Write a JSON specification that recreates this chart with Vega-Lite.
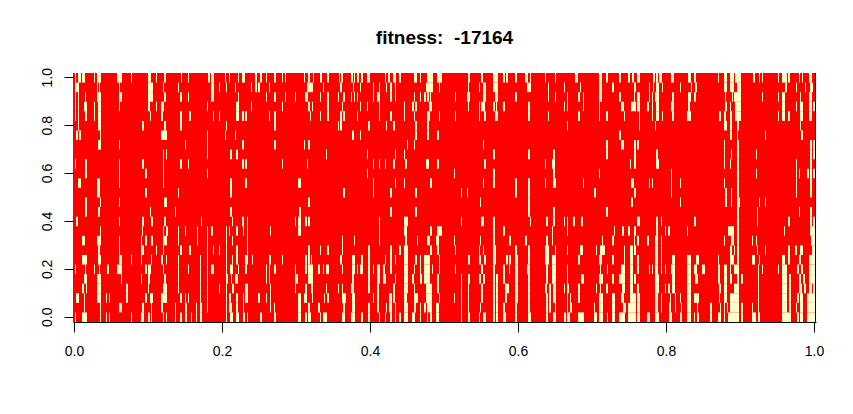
{"$schema":"https://vega.github.io/schema/vega-lite/v6.json","width":743,"height":249,"autosize":{"type":"none"},"padding":{"left":73,"top":73,"right":37,"bottom":92},"background":"white","title":{"text":"fitness: \u00a0-17164","font":"Liberation Sans","fontSize":19,"fontWeight":"bold","color":"black","anchor":"middle","offset":5,"baseline":"alphabetic"},"config":{"view":{"stroke":null,"fill":"#ff0000"}},"datasets":{"rows":[{"r":0,"a":-1,"b":742},{"r":1,"a":-1,"b":742},{"r":2,"a":-1,"b":742},{"r":3,"a":-1,"b":742},{"r":4,"a":-1,"b":742},{"r":5,"a":-1,"b":742},{"r":6,"a":-1,"b":742},{"r":7,"a":-1,"b":742},{"r":8,"a":-1,"b":742},{"r":9,"a":-1,"b":742},{"r":10,"a":-1,"b":742},{"r":11,"a":-1,"b":742},{"r":12,"a":-1,"b":742},{"r":13,"a":-1,"b":742},{"r":14,"a":-1,"b":742},{"r":15,"a":-1,"b":742},{"r":16,"a":-1,"b":742},{"r":17,"a":-1,"b":742},{"r":18,"a":-1,"b":742},{"r":19,"a":-1,"b":742},{"r":20,"a":-1,"b":742},{"r":21,"a":-1,"b":742},{"r":22,"a":-1,"b":742},{"r":23,"a":-1,"b":742},{"r":24,"a":-1,"b":742},{"r":25,"a":-1,"b":742}],"pale":[
{"r":25,"a":1,"b":2},{"r":25,"a":4,"b":7},{"r":25,"a":8,"b":11},{"r":25,"a":20,"b":21},{"r":25,"a":23,"b":27},{"r":25,"a":43,"b":48},{"r":25,"a":57,"b":58},{"r":25,"a":74,"b":77},{"r":25,"a":82,"b":83},{"r":25,"a":90,"b":92},{"r":25,"a":107,"b":108},{"r":25,"a":114,"b":115},{"r":25,"a":134,"b":136},{"r":25,"a":137,"b":140},{"r":25,"a":151,"b":152},{"r":25,"a":155,"b":156},{"r":25,"a":164,"b":165},{"r":25,"a":168,"b":171},{"r":25,"a":181,"b":183},{"r":25,"a":186,"b":188},{"r":25,"a":192,"b":193},{"r":25,"a":200,"b":202},{"r":25,"a":208,"b":209},{"r":25,"a":211,"b":212},{"r":25,"a":230,"b":231},{"r":25,"a":234,"b":236},{"r":25,"a":239,"b":240},{"r":25,"a":246,"b":248},{"r":25,"a":253,"b":255},{"r":25,"a":265,"b":266},{"r":25,"a":267,"b":269},{"r":25,"a":277,"b":279},{"r":25,"a":280,"b":281},{"r":25,"a":283,"b":285},{"r":25,"a":287,"b":289},{"r":25,"a":293,"b":296},{"r":25,"a":311,"b":312},{"r":25,"a":314,"b":316},{"r":25,"a":319,"b":322},{"r":25,"a":325,"b":327},{"r":25,"a":340,"b":343},{"r":25,"a":346,"b":347},{"r":25,"a":353,"b":359},{"r":25,"a":363,"b":368},{"r":25,"a":394,"b":396},{"r":25,"a":407,"b":409},{"r":25,"a":419,"b":424},{"r":25,"a":429,"b":431},{"r":25,"a":432,"b":434},{"r":25,"a":441,"b":443},{"r":25,"a":451,"b":454},{"r":25,"a":456,"b":457},{"r":25,"a":471,"b":472},{"r":25,"a":481,"b":482},{"r":25,"a":501,"b":504},{"r":25,"a":525,"b":528},{"r":25,"a":532,"b":534},{"r":25,"a":545,"b":547},{"r":25,"a":554,"b":556},{"r":25,"a":558,"b":560},{"r":25,"a":563,"b":566},{"r":25,"a":579,"b":581},{"r":25,"a":582,"b":584},{"r":25,"a":585,"b":588},{"r":25,"a":597,"b":600},{"r":25,"a":614,"b":617},{"r":25,"a":620,"b":622},{"r":25,"a":644,"b":645},{"r":25,"a":650,"b":653},{"r":25,"a":656,"b":660},{"r":25,"a":661,"b":667},{"r":25,"a":679,"b":681},{"r":25,"a":685,"b":686},{"r":25,"a":688,"b":689},{"r":25,"a":704,"b":705},{"r":25,"a":708,"b":713},{"r":25,"a":714,"b":716},{"r":25,"a":725,"b":726},{"r":25,"a":728,"b":729},{"r":25,"a":735,"b":738},
{"r":24,"a":1,"b":5},{"r":24,"a":23,"b":24},{"r":24,"a":25,"b":26},{"r":24,"a":45,"b":46},{"r":24,"a":74,"b":79},{"r":24,"a":89,"b":90},{"r":24,"a":104,"b":105},{"r":24,"a":137,"b":140},{"r":24,"a":145,"b":146},{"r":24,"a":152,"b":153},{"r":24,"a":161,"b":162},{"r":24,"a":177,"b":178},{"r":24,"a":181,"b":183},{"r":24,"a":184,"b":186},{"r":24,"a":195,"b":196},{"r":24,"a":233,"b":239},{"r":24,"a":249,"b":250},{"r":24,"a":266,"b":268},{"r":24,"a":279,"b":280},{"r":24,"a":286,"b":287},{"r":24,"a":299,"b":300},{"r":24,"a":305,"b":306},{"r":24,"a":312,"b":313},{"r":24,"a":316,"b":318},{"r":24,"a":321,"b":322},{"r":24,"a":352,"b":359},{"r":24,"a":365,"b":366},{"r":24,"a":394,"b":395},{"r":24,"a":405,"b":406},{"r":24,"a":409,"b":412},{"r":24,"a":419,"b":424},{"r":24,"a":453,"b":457},{"r":24,"a":474,"b":475},{"r":24,"a":490,"b":491},{"r":24,"a":506,"b":507},{"r":24,"a":525,"b":528},{"r":24,"a":538,"b":540},{"r":24,"a":560,"b":562},{"r":24,"a":575,"b":576},{"r":24,"a":579,"b":580},{"r":24,"a":582,"b":585},{"r":24,"a":588,"b":589},{"r":24,"a":606,"b":607},{"r":24,"a":617,"b":618},{"r":24,"a":621,"b":623},{"r":24,"a":650,"b":653},{"r":24,"a":656,"b":660},{"r":24,"a":663,"b":667},{"r":24,"a":711,"b":713},{"r":24,"a":722,"b":723},{"r":24,"a":731,"b":732},{"r":24,"a":736,"b":739},
{"r":23,"a":1,"b":2},{"r":23,"a":4,"b":5},{"r":23,"a":11,"b":12},{"r":23,"a":23,"b":27},{"r":23,"a":45,"b":48},{"r":23,"a":74,"b":79},{"r":23,"a":90,"b":92},{"r":23,"a":106,"b":108},{"r":23,"a":114,"b":115},{"r":23,"a":137,"b":140},{"r":23,"a":164,"b":165},{"r":23,"a":192,"b":193},{"r":23,"a":200,"b":202},{"r":23,"a":211,"b":212},{"r":23,"a":221,"b":222},{"r":23,"a":231,"b":234},{"r":23,"a":246,"b":247},{"r":23,"a":253,"b":255},{"r":23,"a":264,"b":265},{"r":23,"a":269,"b":271},{"r":23,"a":277,"b":278},{"r":23,"a":280,"b":281},{"r":23,"a":283,"b":284},{"r":23,"a":299,"b":300},{"r":23,"a":303,"b":306},{"r":23,"a":316,"b":318},{"r":23,"a":321,"b":322},{"r":23,"a":340,"b":341},{"r":23,"a":346,"b":347},{"r":23,"a":350,"b":352},{"r":23,"a":353,"b":355},{"r":23,"a":356,"b":357},{"r":23,"a":381,"b":382},{"r":23,"a":393,"b":396},{"r":23,"a":409,"b":412},{"r":23,"a":421,"b":424},{"r":23,"a":441,"b":443},{"r":23,"a":474,"b":475},{"r":23,"a":481,"b":482},{"r":23,"a":493,"b":494},{"r":23,"a":504,"b":506},{"r":23,"a":509,"b":510},{"r":23,"a":525,"b":528},{"r":23,"a":545,"b":547},{"r":23,"a":560,"b":561},{"r":23,"a":563,"b":566},{"r":23,"a":575,"b":576},{"r":23,"a":578,"b":579},{"r":23,"a":581,"b":585},{"r":23,"a":598,"b":600},{"r":23,"a":614,"b":617},{"r":23,"a":620,"b":622},{"r":23,"a":651,"b":652},{"r":23,"a":658,"b":659},{"r":23,"a":660,"b":667},{"r":23,"a":688,"b":689},{"r":23,"a":704,"b":705},{"r":23,"a":708,"b":711},{"r":23,"a":726,"b":727},{"r":23,"a":735,"b":738},
{"r":22,"a":1,"b":2},{"r":22,"a":4,"b":5},{"r":22,"a":10,"b":13},{"r":22,"a":20,"b":21},{"r":22,"a":24,"b":27},{"r":22,"a":45,"b":46},{"r":22,"a":74,"b":76},{"r":22,"a":82,"b":83},{"r":22,"a":87,"b":90},{"r":22,"a":133,"b":134},{"r":22,"a":162,"b":165},{"r":22,"a":177,"b":178},{"r":22,"a":208,"b":209},{"r":22,"a":234,"b":236},{"r":22,"a":238,"b":239},{"r":22,"a":253,"b":255},{"r":22,"a":268,"b":269},{"r":22,"a":286,"b":287},{"r":22,"a":293,"b":294},{"r":22,"a":305,"b":306},{"r":22,"a":330,"b":331},{"r":22,"a":338,"b":340},{"r":22,"a":341,"b":343},{"r":22,"a":355,"b":358},{"r":22,"a":394,"b":395},{"r":22,"a":405,"b":406},{"r":22,"a":407,"b":411},{"r":22,"a":419,"b":421},{"r":22,"a":422,"b":423},{"r":22,"a":429,"b":431},{"r":22,"a":454,"b":456},{"r":22,"a":490,"b":491},{"r":22,"a":493,"b":494},{"r":22,"a":509,"b":510},{"r":22,"a":525,"b":526},{"r":22,"a":547,"b":550},{"r":22,"a":557,"b":562},{"r":22,"a":563,"b":566},{"r":22,"a":573,"b":575},{"r":22,"a":578,"b":579},{"r":22,"a":582,"b":585},{"r":22,"a":597,"b":600},{"r":22,"a":614,"b":616},{"r":22,"a":651,"b":653},{"r":22,"a":656,"b":657},{"r":22,"a":661,"b":667},{"r":22,"a":708,"b":711},{"r":22,"a":722,"b":723},{"r":22,"a":726,"b":729},{"r":22,"a":735,"b":738},{"r":22,"a":739,"b":741},
{"r":21,"a":1,"b":2},{"r":21,"a":4,"b":5},{"r":21,"a":11,"b":13},{"r":21,"a":20,"b":21},{"r":21,"a":24,"b":27},{"r":21,"a":76,"b":77},{"r":21,"a":87,"b":89},{"r":21,"a":106,"b":108},{"r":21,"a":115,"b":117},{"r":21,"a":139,"b":140},{"r":21,"a":145,"b":146},{"r":21,"a":162,"b":165},{"r":21,"a":168,"b":170},{"r":21,"a":171,"b":173},{"r":21,"a":195,"b":196},{"r":21,"a":200,"b":202},{"r":21,"a":236,"b":237},{"r":21,"a":246,"b":247},{"r":21,"a":253,"b":255},{"r":21,"a":266,"b":268},{"r":21,"a":269,"b":271},{"r":21,"a":283,"b":284},{"r":21,"a":305,"b":306},{"r":21,"a":316,"b":318},{"r":21,"a":330,"b":331},{"r":21,"a":340,"b":341},{"r":21,"a":353,"b":356},{"r":21,"a":365,"b":366},{"r":21,"a":381,"b":382},{"r":21,"a":405,"b":406},{"r":21,"a":410,"b":412},{"r":21,"a":421,"b":424},{"r":21,"a":454,"b":456},{"r":21,"a":474,"b":475},{"r":21,"a":504,"b":506},{"r":21,"a":525,"b":526},{"r":21,"a":532,"b":534},{"r":21,"a":550,"b":551},{"r":21,"a":565,"b":566},{"r":21,"a":578,"b":579},{"r":21,"a":582,"b":585},{"r":21,"a":588,"b":589},{"r":21,"a":598,"b":600},{"r":21,"a":613,"b":617},{"r":21,"a":645,"b":647},{"r":21,"a":650,"b":652},{"r":21,"a":656,"b":658},{"r":21,"a":661,"b":667},{"r":21,"a":704,"b":705},{"r":21,"a":708,"b":711},{"r":21,"a":714,"b":716},{"r":21,"a":726,"b":729},{"r":21,"a":735,"b":738},
{"r":20,"a":4,"b":5},{"r":20,"a":24,"b":27},{"r":20,"a":68,"b":70},{"r":20,"a":90,"b":92},{"r":20,"a":106,"b":108},{"r":20,"a":152,"b":153},{"r":20,"a":200,"b":202},{"r":20,"a":264,"b":265},{"r":20,"a":266,"b":268},{"r":20,"a":294,"b":296},{"r":20,"a":312,"b":313},{"r":20,"a":319,"b":321},{"r":20,"a":341,"b":343},{"r":20,"a":353,"b":355},{"r":20,"a":493,"b":494},{"r":20,"a":565,"b":566},{"r":20,"a":581,"b":582},{"r":20,"a":650,"b":653},{"r":20,"a":656,"b":658},{"r":20,"a":663,"b":665},{"r":20,"a":726,"b":727},
{"r":19,"a":2,"b":4},{"r":19,"a":5,"b":7},{"r":19,"a":26,"b":27},{"r":19,"a":87,"b":93},{"r":19,"a":133,"b":134},{"r":19,"a":151,"b":152},{"r":19,"a":161,"b":162},{"r":19,"a":278,"b":280},{"r":19,"a":286,"b":287},{"r":19,"a":341,"b":343},{"r":19,"a":353,"b":355},{"r":19,"a":363,"b":365},{"r":19,"a":545,"b":547},{"r":19,"a":656,"b":658},{"r":19,"a":663,"b":664},{"r":19,"a":691,"b":692},{"r":19,"a":727,"b":729},
{"r":18,"a":24,"b":27},{"r":18,"a":45,"b":46},{"r":18,"a":111,"b":112},{"r":18,"a":133,"b":134},{"r":18,"a":168,"b":170},{"r":18,"a":200,"b":202},{"r":18,"a":230,"b":231},{"r":18,"a":234,"b":236},{"r":18,"a":333,"b":334},{"r":18,"a":340,"b":341},{"r":18,"a":409,"b":410},{"r":18,"a":532,"b":534},{"r":18,"a":547,"b":550},{"r":18,"a":560,"b":562},{"r":18,"a":563,"b":565},{"r":18,"a":650,"b":651},{"r":18,"a":663,"b":665},{"r":18,"a":736,"b":738},{"r":18,"a":739,"b":741},
{"r":17,"a":89,"b":90},{"r":17,"a":92,"b":93},{"r":17,"a":133,"b":134},{"r":17,"a":156,"b":158},{"r":17,"a":162,"b":164},{"r":17,"a":252,"b":253},{"r":17,"a":293,"b":294},{"r":17,"a":321,"b":322},{"r":17,"a":330,"b":331},{"r":17,"a":419,"b":421},{"r":17,"a":454,"b":456},{"r":17,"a":479,"b":481},{"r":17,"a":532,"b":534},{"r":17,"a":560,"b":562},{"r":17,"a":582,"b":584},{"r":17,"a":650,"b":651},{"r":17,"a":657,"b":658},{"r":17,"a":663,"b":665},{"r":17,"a":682,"b":683},{"r":17,"a":736,"b":738},{"r":17,"a":739,"b":741},
{"r":16,"a":1,"b":2},{"r":16,"a":11,"b":13},{"r":16,"a":45,"b":46},{"r":16,"a":68,"b":70},{"r":16,"a":89,"b":90},{"r":16,"a":106,"b":108},{"r":16,"a":114,"b":115},{"r":16,"a":168,"b":170},{"r":16,"a":171,"b":173},{"r":16,"a":208,"b":209},{"r":16,"a":233,"b":234},{"r":16,"a":299,"b":300},{"r":16,"a":305,"b":306},{"r":16,"a":311,"b":312},{"r":16,"a":319,"b":321},{"r":16,"a":331,"b":333},{"r":16,"a":352,"b":355},{"r":16,"a":363,"b":365},{"r":16,"a":410,"b":412},{"r":16,"a":471,"b":472},{"r":16,"a":478,"b":481},{"r":16,"a":556,"b":557},{"r":16,"a":560,"b":562},{"r":16,"a":582,"b":585},{"r":16,"a":650,"b":651},{"r":16,"a":656,"b":657},{"r":16,"a":663,"b":665},{"r":16,"a":722,"b":723},{"r":16,"a":736,"b":738},
{"r":15,"a":11,"b":13},{"r":15,"a":45,"b":46},{"r":15,"a":71,"b":73},{"r":15,"a":89,"b":90},{"r":15,"a":133,"b":134},{"r":15,"a":293,"b":294},{"r":15,"a":380,"b":381},{"r":15,"a":419,"b":421},{"r":15,"a":479,"b":481},{"r":15,"a":525,"b":526},{"r":15,"a":597,"b":598},{"r":15,"a":663,"b":665},{"r":15,"a":682,"b":683},{"r":15,"a":722,"b":723},{"r":15,"a":725,"b":726},{"r":15,"a":733,"b":735},{"r":15,"a":736,"b":738},{"r":15,"a":739,"b":741},
{"r":14,"a":4,"b":7},{"r":14,"a":23,"b":26},{"r":14,"a":45,"b":46},{"r":14,"a":89,"b":90},{"r":14,"a":156,"b":158},{"r":14,"a":171,"b":173},{"r":14,"a":224,"b":227},{"r":14,"a":299,"b":300},{"r":14,"a":321,"b":322},{"r":14,"a":330,"b":331},{"r":14,"a":356,"b":358},{"r":14,"a":409,"b":410},{"r":14,"a":419,"b":421},{"r":14,"a":441,"b":443},{"r":14,"a":454,"b":456},{"r":14,"a":471,"b":472},{"r":14,"a":479,"b":482},{"r":14,"a":509,"b":510},{"r":14,"a":557,"b":560},{"r":14,"a":575,"b":576},{"r":14,"a":578,"b":579},{"r":14,"a":597,"b":598},{"r":14,"a":606,"b":607},{"r":14,"a":650,"b":651},{"r":14,"a":663,"b":665},{"r":14,"a":722,"b":723},{"r":14,"a":736,"b":738},
{"r":13,"a":23,"b":26},{"r":13,"a":71,"b":73},{"r":13,"a":104,"b":105},{"r":13,"a":156,"b":158},{"r":13,"a":269,"b":271},{"r":13,"a":299,"b":300},{"r":13,"a":316,"b":318},{"r":13,"a":341,"b":343},{"r":13,"a":387,"b":388},{"r":13,"a":393,"b":394},{"r":13,"a":441,"b":443},{"r":13,"a":454,"b":456},{"r":13,"a":520,"b":522},{"r":13,"a":560,"b":562},{"r":13,"a":597,"b":598},{"r":13,"a":651,"b":653},{"r":13,"a":657,"b":658},{"r":13,"a":663,"b":665},{"r":13,"a":722,"b":723},{"r":13,"a":736,"b":738},
{"r":12,"a":11,"b":13},{"r":12,"a":26,"b":27},{"r":12,"a":45,"b":46},{"r":12,"a":90,"b":93},{"r":12,"a":234,"b":236},{"r":12,"a":406,"b":407},{"r":12,"a":454,"b":456},{"r":12,"a":557,"b":559},{"r":12,"a":606,"b":607},{"r":12,"a":651,"b":653},{"r":12,"a":657,"b":658},{"r":12,"a":663,"b":666},{"r":12,"a":685,"b":686},{"r":12,"a":691,"b":692},
{"r":11,"a":11,"b":13},{"r":11,"a":24,"b":26},{"r":11,"a":76,"b":77},{"r":11,"a":101,"b":102},{"r":11,"a":156,"b":158},{"r":11,"a":225,"b":227},{"r":11,"a":316,"b":318},{"r":11,"a":341,"b":343},{"r":11,"a":454,"b":456},{"r":11,"a":479,"b":481},{"r":11,"a":532,"b":534},{"r":11,"a":663,"b":665},{"r":11,"a":683,"b":684},{"r":11,"a":725,"b":726},{"r":11,"a":736,"b":738},
{"r":10,"a":2,"b":4},{"r":10,"a":45,"b":46},{"r":10,"a":68,"b":70},{"r":10,"a":77,"b":79},{"r":10,"a":90,"b":92},{"r":10,"a":127,"b":128},{"r":10,"a":158,"b":159},{"r":10,"a":168,"b":170},{"r":10,"a":173,"b":174},{"r":10,"a":221,"b":222},{"r":10,"a":224,"b":227},{"r":10,"a":231,"b":233},{"r":10,"a":234,"b":236},{"r":10,"a":305,"b":306},{"r":10,"a":330,"b":334},{"r":10,"a":387,"b":388},{"r":10,"a":407,"b":410},{"r":10,"a":419,"b":421},{"r":10,"a":456,"b":457},{"r":10,"a":472,"b":474},{"r":10,"a":479,"b":481},{"r":10,"a":490,"b":491},{"r":10,"a":493,"b":494},{"r":10,"a":499,"b":501},{"r":10,"a":507,"b":509},{"r":10,"a":563,"b":566},{"r":10,"a":582,"b":584},{"r":10,"a":587,"b":588},{"r":10,"a":620,"b":622},{"r":10,"a":663,"b":665},{"r":10,"a":683,"b":684},{"r":10,"a":714,"b":716},{"r":10,"a":736,"b":738},{"r":10,"a":739,"b":741},
{"r":9,"a":26,"b":27},{"r":9,"a":68,"b":69},{"r":9,"a":89,"b":90},{"r":9,"a":92,"b":94},{"r":9,"a":104,"b":105},{"r":9,"a":111,"b":112},{"r":9,"a":123,"b":124},{"r":9,"a":133,"b":134},{"r":9,"a":137,"b":139},{"r":9,"a":152,"b":153},{"r":9,"a":155,"b":156},{"r":9,"a":162,"b":164},{"r":9,"a":169,"b":170},{"r":9,"a":173,"b":174},{"r":9,"a":196,"b":197},{"r":9,"a":224,"b":227},{"r":9,"a":305,"b":306},{"r":9,"a":330,"b":333},{"r":9,"a":356,"b":358},{"r":9,"a":363,"b":368},{"r":9,"a":419,"b":421},{"r":9,"a":429,"b":431},{"r":9,"a":478,"b":479},{"r":9,"a":493,"b":494},{"r":9,"a":540,"b":541},{"r":9,"a":548,"b":550},{"r":9,"a":554,"b":556},{"r":9,"a":560,"b":562},{"r":9,"a":582,"b":584},{"r":9,"a":591,"b":592},{"r":9,"a":594,"b":596},{"r":9,"a":613,"b":614},{"r":9,"a":654,"b":660},{"r":9,"a":663,"b":665},{"r":9,"a":710,"b":711},{"r":9,"a":736,"b":741},
{"r":8,"a":8,"b":11},{"r":8,"a":23,"b":27},{"r":8,"a":45,"b":46},{"r":8,"a":67,"b":68},{"r":8,"a":71,"b":73},{"r":8,"a":77,"b":79},{"r":8,"a":89,"b":93},{"r":8,"a":104,"b":105},{"r":8,"a":123,"b":124},{"r":8,"a":133,"b":134},{"r":8,"a":152,"b":153},{"r":8,"a":158,"b":159},{"r":8,"a":173,"b":174},{"r":8,"a":268,"b":269},{"r":8,"a":280,"b":281},{"r":8,"a":305,"b":306},{"r":8,"a":331,"b":333},{"r":8,"a":343,"b":344},{"r":8,"a":353,"b":356},{"r":8,"a":362,"b":365},{"r":8,"a":380,"b":381},{"r":8,"a":406,"b":407},{"r":8,"a":419,"b":421},{"r":8,"a":435,"b":437},{"r":8,"a":451,"b":453},{"r":8,"a":472,"b":474},{"r":8,"a":478,"b":479},{"r":8,"a":528,"b":529},{"r":8,"a":538,"b":540},{"r":8,"a":560,"b":561},{"r":8,"a":563,"b":565},{"r":8,"a":573,"b":575},{"r":8,"a":581,"b":584},{"r":8,"a":587,"b":588},{"r":8,"a":650,"b":651},{"r":8,"a":657,"b":660},{"r":8,"a":663,"b":665},{"r":8,"a":678,"b":679},{"r":8,"a":682,"b":683},{"r":8,"a":737,"b":741},
{"r":7,"a":24,"b":26},{"r":7,"a":45,"b":46},{"r":7,"a":67,"b":70},{"r":7,"a":82,"b":83},{"r":7,"a":89,"b":90},{"r":7,"a":106,"b":108},{"r":7,"a":115,"b":117},{"r":7,"a":133,"b":134},{"r":7,"a":139,"b":140},{"r":7,"a":145,"b":146},{"r":7,"a":152,"b":153},{"r":7,"a":162,"b":164},{"r":7,"a":173,"b":174},{"r":7,"a":234,"b":236},{"r":7,"a":246,"b":247},{"r":7,"a":253,"b":255},{"r":7,"a":268,"b":269},{"r":7,"a":294,"b":296},{"r":7,"a":316,"b":318},{"r":7,"a":325,"b":327},{"r":7,"a":330,"b":334},{"r":7,"a":356,"b":358},{"r":7,"a":363,"b":365},{"r":7,"a":381,"b":382},{"r":7,"a":405,"b":406},{"r":7,"a":409,"b":410},{"r":7,"a":419,"b":422},{"r":7,"a":441,"b":443},{"r":7,"a":454,"b":456},{"r":7,"a":471,"b":475},{"r":7,"a":481,"b":482},{"r":7,"a":493,"b":494},{"r":7,"a":506,"b":509},{"r":7,"a":522,"b":523},{"r":7,"a":526,"b":531},{"r":7,"a":550,"b":551},{"r":7,"a":556,"b":559},{"r":7,"a":560,"b":562},{"r":7,"a":581,"b":584},{"r":7,"a":587,"b":588},{"r":7,"a":656,"b":658},{"r":7,"a":660,"b":661},{"r":7,"a":663,"b":665},{"r":7,"a":683,"b":684},{"r":7,"a":691,"b":692},{"r":7,"a":714,"b":716},{"r":7,"a":721,"b":723},{"r":7,"a":726,"b":729},{"r":7,"a":738,"b":741},
{"r":6,"a":8,"b":13},{"r":6,"a":24,"b":27},{"r":6,"a":45,"b":48},{"r":6,"a":57,"b":58},{"r":6,"a":67,"b":68},{"r":6,"a":77,"b":78},{"r":6,"a":87,"b":89},{"r":6,"a":92,"b":93},{"r":6,"a":104,"b":105},{"r":6,"a":126,"b":127},{"r":6,"a":133,"b":134},{"r":6,"a":152,"b":153},{"r":6,"a":158,"b":159},{"r":6,"a":162,"b":164},{"r":6,"a":171,"b":174},{"r":6,"a":178,"b":179},{"r":6,"a":195,"b":197},{"r":6,"a":208,"b":209},{"r":6,"a":231,"b":233},{"r":6,"a":234,"b":236},{"r":6,"a":237,"b":238},{"r":6,"a":266,"b":268},{"r":6,"a":278,"b":281},{"r":6,"a":287,"b":289},{"r":6,"a":294,"b":296},{"r":6,"a":311,"b":312},{"r":6,"a":316,"b":318},{"r":6,"a":321,"b":322},{"r":6,"a":330,"b":334},{"r":6,"a":341,"b":343},{"r":6,"a":346,"b":347},{"r":6,"a":350,"b":356},{"r":6,"a":365,"b":366},{"r":6,"a":394,"b":396},{"r":6,"a":405,"b":407},{"r":6,"a":410,"b":412},{"r":6,"a":419,"b":422},{"r":6,"a":432,"b":434},{"r":6,"a":435,"b":437},{"r":6,"a":441,"b":444},{"r":6,"a":454,"b":456},{"r":6,"a":471,"b":475},{"r":6,"a":478,"b":482},{"r":6,"a":504,"b":506},{"r":6,"a":525,"b":528},{"r":6,"a":538,"b":540},{"r":6,"a":550,"b":551},{"r":6,"a":556,"b":559},{"r":6,"a":563,"b":565},{"r":6,"a":581,"b":584},{"r":6,"a":587,"b":588},{"r":6,"a":598,"b":601},{"r":6,"a":613,"b":617},{"r":6,"a":622,"b":625},{"r":6,"a":644,"b":645},{"r":6,"a":656,"b":660},{"r":6,"a":663,"b":665},{"r":6,"a":678,"b":681},{"r":6,"a":685,"b":686},{"r":6,"a":708,"b":711},{"r":6,"a":714,"b":716},{"r":6,"a":725,"b":727},{"r":6,"a":735,"b":741},
{"r":5,"a":1,"b":2},{"r":5,"a":11,"b":12},{"r":5,"a":20,"b":21},{"r":5,"a":25,"b":26},{"r":5,"a":33,"b":35},{"r":5,"a":43,"b":48},{"r":5,"a":71,"b":73},{"r":5,"a":74,"b":77},{"r":5,"a":89,"b":90},{"r":5,"a":104,"b":105},{"r":5,"a":114,"b":115},{"r":5,"a":126,"b":127},{"r":5,"a":133,"b":134},{"r":5,"a":137,"b":140},{"r":5,"a":152,"b":153},{"r":5,"a":156,"b":159},{"r":5,"a":164,"b":165},{"r":5,"a":171,"b":173},{"r":5,"a":192,"b":193},{"r":5,"a":195,"b":196},{"r":5,"a":200,"b":202},{"r":5,"a":221,"b":222},{"r":5,"a":231,"b":233},{"r":5,"a":234,"b":239},{"r":5,"a":244,"b":246},{"r":5,"a":249,"b":250},{"r":5,"a":252,"b":255},{"r":5,"a":268,"b":269},{"r":5,"a":278,"b":281},{"r":5,"a":283,"b":284},{"r":5,"a":286,"b":289},{"r":5,"a":294,"b":296},{"r":5,"a":299,"b":300},{"r":5,"a":303,"b":306},{"r":5,"a":309,"b":311},{"r":5,"a":316,"b":318},{"r":5,"a":330,"b":334},{"r":5,"a":340,"b":341},{"r":5,"a":346,"b":347},{"r":5,"a":350,"b":356},{"r":5,"a":358,"b":359},{"r":5,"a":365,"b":366},{"r":5,"a":381,"b":382},{"r":5,"a":407,"b":409},{"r":5,"a":419,"b":421},{"r":5,"a":429,"b":431},{"r":5,"a":435,"b":436},{"r":5,"a":441,"b":444},{"r":5,"a":453,"b":456},{"r":5,"a":472,"b":474},{"r":5,"a":478,"b":482},{"r":5,"a":493,"b":494},{"r":5,"a":526,"b":527},{"r":5,"a":533,"b":534},{"r":5,"a":547,"b":551},{"r":5,"a":556,"b":559},{"r":5,"a":563,"b":565},{"r":5,"a":575,"b":576},{"r":5,"a":578,"b":579},{"r":5,"a":581,"b":584},{"r":5,"a":587,"b":588},{"r":5,"a":591,"b":592},{"r":5,"a":597,"b":601},{"r":5,"a":613,"b":617},{"r":5,"a":620,"b":623},{"r":5,"a":628,"b":631},{"r":5,"a":644,"b":646},{"r":5,"a":650,"b":653},{"r":5,"a":656,"b":657},{"r":5,"a":660,"b":665},{"r":5,"a":684,"b":685},{"r":5,"a":688,"b":689},{"r":5,"a":704,"b":705},{"r":5,"a":708,"b":713},{"r":5,"a":723,"b":725},{"r":5,"a":727,"b":729},{"r":5,"a":735,"b":741},
{"r":4,"a":10,"b":13},{"r":4,"a":23,"b":27},{"r":4,"a":47,"b":48},{"r":4,"a":67,"b":68},{"r":4,"a":74,"b":76},{"r":4,"a":90,"b":92},{"r":4,"a":104,"b":105},{"r":4,"a":126,"b":127},{"r":4,"a":133,"b":134},{"r":4,"a":152,"b":154},{"r":4,"a":157,"b":158},{"r":4,"a":161,"b":164},{"r":4,"a":192,"b":193},{"r":4,"a":195,"b":196},{"r":4,"a":221,"b":224},{"r":4,"a":234,"b":239},{"r":4,"a":278,"b":280},{"r":4,"a":294,"b":296},{"r":4,"a":303,"b":306},{"r":4,"a":309,"b":312},{"r":4,"a":321,"b":322},{"r":4,"a":330,"b":334},{"r":4,"a":338,"b":340},{"r":4,"a":346,"b":348},{"r":4,"a":350,"b":356},{"r":4,"a":363,"b":365},{"r":4,"a":387,"b":388},{"r":4,"a":394,"b":396},{"r":4,"a":405,"b":407},{"r":4,"a":409,"b":411},{"r":4,"a":419,"b":421},{"r":4,"a":422,"b":424},{"r":4,"a":429,"b":431},{"r":4,"a":441,"b":444},{"r":4,"a":454,"b":456},{"r":4,"a":472,"b":474},{"r":4,"a":478,"b":482},{"r":4,"a":493,"b":494},{"r":4,"a":507,"b":510},{"r":4,"a":525,"b":529},{"r":4,"a":538,"b":540},{"r":4,"a":545,"b":551},{"r":4,"a":556,"b":559},{"r":4,"a":560,"b":562},{"r":4,"a":581,"b":585},{"r":4,"a":598,"b":601},{"r":4,"a":613,"b":617},{"r":4,"a":621,"b":624},{"r":4,"a":644,"b":646},{"r":4,"a":650,"b":653},{"r":4,"a":656,"b":658},{"r":4,"a":663,"b":665},{"r":4,"a":667,"b":669},{"r":4,"a":684,"b":685},{"r":4,"a":708,"b":713},{"r":4,"a":715,"b":717},{"r":4,"a":725,"b":727},{"r":4,"a":729,"b":731},{"r":4,"a":735,"b":741},
{"r":3,"a":8,"b":10},{"r":3,"a":12,"b":13},{"r":3,"a":23,"b":27},{"r":3,"a":52,"b":54},{"r":3,"a":74,"b":75},{"r":3,"a":89,"b":93},{"r":3,"a":104,"b":105},{"r":3,"a":126,"b":127},{"r":3,"a":133,"b":134},{"r":3,"a":145,"b":146},{"r":3,"a":152,"b":153},{"r":3,"a":158,"b":160},{"r":3,"a":171,"b":174},{"r":3,"a":196,"b":197},{"r":3,"a":221,"b":222},{"r":3,"a":231,"b":233},{"r":3,"a":237,"b":239},{"r":3,"a":252,"b":253},{"r":3,"a":264,"b":265},{"r":3,"a":268,"b":269},{"r":3,"a":277,"b":280},{"r":3,"a":294,"b":296},{"r":3,"a":303,"b":305},{"r":3,"a":319,"b":321},{"r":3,"a":330,"b":334},{"r":3,"a":340,"b":341},{"r":3,"a":352,"b":358},{"r":3,"a":363,"b":365},{"r":3,"a":387,"b":388},{"r":3,"a":394,"b":395},{"r":3,"a":407,"b":409},{"r":3,"a":419,"b":421},{"r":3,"a":422,"b":424},{"r":3,"a":431,"b":435},{"r":3,"a":441,"b":444},{"r":3,"a":454,"b":456},{"r":3,"a":471,"b":473},{"r":3,"a":475,"b":477},{"r":3,"a":479,"b":482},{"r":3,"a":490,"b":491},{"r":3,"a":493,"b":495},{"r":3,"a":504,"b":506},{"r":3,"a":522,"b":523},{"r":3,"a":526,"b":527},{"r":3,"a":532,"b":534},{"r":3,"a":548,"b":551},{"r":3,"a":556,"b":559},{"r":3,"a":563,"b":565},{"r":3,"a":581,"b":585},{"r":3,"a":591,"b":592},{"r":3,"a":594,"b":596},{"r":3,"a":598,"b":601},{"r":3,"a":613,"b":617},{"r":3,"a":645,"b":647},{"r":3,"a":650,"b":653},{"r":3,"a":660,"b":665},{"r":3,"a":684,"b":685},{"r":3,"a":708,"b":713},{"r":3,"a":715,"b":717},{"r":3,"a":725,"b":728},{"r":3,"a":730,"b":732},{"r":3,"a":735,"b":738},{"r":3,"a":739,"b":741},
{"r":2,"a":2,"b":5},{"r":2,"a":10,"b":11},{"r":2,"a":23,"b":27},{"r":2,"a":32,"b":33},{"r":2,"a":35,"b":36},{"r":2,"a":52,"b":54},{"r":2,"a":71,"b":73},{"r":2,"a":76,"b":79},{"r":2,"a":87,"b":93},{"r":2,"a":106,"b":108},{"r":2,"a":111,"b":112},{"r":2,"a":114,"b":115},{"r":2,"a":126,"b":127},{"r":2,"a":133,"b":134},{"r":2,"a":152,"b":153},{"r":2,"a":155,"b":157},{"r":2,"a":162,"b":164},{"r":2,"a":169,"b":170},{"r":2,"a":171,"b":174},{"r":2,"a":184,"b":186},{"r":2,"a":192,"b":193},{"r":2,"a":196,"b":197},{"r":2,"a":224,"b":227},{"r":2,"a":230,"b":233},{"r":2,"a":238,"b":239},{"r":2,"a":250,"b":251},{"r":2,"a":253,"b":255},{"r":2,"a":268,"b":272},{"r":2,"a":278,"b":281},{"r":2,"a":299,"b":300},{"r":2,"a":303,"b":305},{"r":2,"a":315,"b":318},{"r":2,"a":319,"b":321},{"r":2,"a":330,"b":333},{"r":2,"a":340,"b":344},{"r":2,"a":352,"b":358},{"r":2,"a":365,"b":366},{"r":2,"a":380,"b":381},{"r":2,"a":387,"b":388},{"r":2,"a":394,"b":395},{"r":2,"a":407,"b":409},{"r":2,"a":419,"b":421},{"r":2,"a":422,"b":424},{"r":2,"a":431,"b":433},{"r":2,"a":441,"b":444},{"r":2,"a":454,"b":456},{"r":2,"a":472,"b":474},{"r":2,"a":475,"b":477},{"r":2,"a":479,"b":482},{"r":2,"a":493,"b":494},{"r":2,"a":496,"b":497},{"r":2,"a":504,"b":506},{"r":2,"a":525,"b":529},{"r":2,"a":538,"b":541},{"r":2,"a":547,"b":550},{"r":2,"a":556,"b":562},{"r":2,"a":563,"b":566},{"r":2,"a":581,"b":584},{"r":2,"a":587,"b":588},{"r":2,"a":596,"b":597},{"r":2,"a":601,"b":602},{"r":2,"a":606,"b":607},{"r":2,"a":613,"b":617},{"r":2,"a":620,"b":625},{"r":2,"a":645,"b":646},{"r":2,"a":650,"b":653},{"r":2,"a":656,"b":665},{"r":2,"a":684,"b":685},{"r":2,"a":708,"b":713},{"r":2,"a":715,"b":717},{"r":2,"a":723,"b":725},{"r":2,"a":726,"b":729},{"r":2,"a":733,"b":741},
{"r":1,"a":10,"b":11},{"r":1,"a":26,"b":27},{"r":1,"a":45,"b":48},{"r":1,"a":68,"b":70},{"r":1,"a":77,"b":78},{"r":1,"a":87,"b":89},{"r":1,"a":101,"b":102},{"r":1,"a":111,"b":113},{"r":1,"a":122,"b":123},{"r":1,"a":126,"b":128},{"r":1,"a":133,"b":134},{"r":1,"a":152,"b":153},{"r":1,"a":155,"b":158},{"r":1,"a":162,"b":164},{"r":1,"a":169,"b":170},{"r":1,"a":196,"b":197},{"r":1,"a":200,"b":201},{"r":1,"a":224,"b":227},{"r":1,"a":234,"b":236},{"r":1,"a":244,"b":246},{"r":1,"a":269,"b":271},{"r":1,"a":278,"b":281},{"r":1,"a":294,"b":296},{"r":1,"a":303,"b":305},{"r":1,"a":312,"b":313},{"r":1,"a":315,"b":318},{"r":1,"a":321,"b":322},{"r":1,"a":330,"b":334},{"r":1,"a":340,"b":342},{"r":1,"a":346,"b":347},{"r":1,"a":350,"b":352},{"r":1,"a":353,"b":358},{"r":1,"a":362,"b":365},{"r":1,"a":387,"b":388},{"r":1,"a":394,"b":395},{"r":1,"a":406,"b":407},{"r":1,"a":419,"b":421},{"r":1,"a":422,"b":424},{"r":1,"a":429,"b":431},{"r":1,"a":441,"b":443},{"r":1,"a":454,"b":456},{"r":1,"a":472,"b":474},{"r":1,"a":475,"b":477},{"r":1,"a":481,"b":482},{"r":1,"a":493,"b":494},{"r":1,"a":496,"b":498},{"r":1,"a":520,"b":521},{"r":1,"a":525,"b":529},{"r":1,"a":538,"b":541},{"r":1,"a":549,"b":552},{"r":1,"a":554,"b":562},{"r":1,"a":563,"b":566},{"r":1,"a":581,"b":584},{"r":1,"a":587,"b":588},{"r":1,"a":595,"b":597},{"r":1,"a":601,"b":602},{"r":1,"a":607,"b":608},{"r":1,"a":613,"b":617},{"r":1,"a":623,"b":624},{"r":1,"a":636,"b":638},{"r":1,"a":646,"b":647},{"r":1,"a":650,"b":651},{"r":1,"a":653,"b":654},{"r":1,"a":656,"b":665},{"r":1,"a":667,"b":669},{"r":1,"a":678,"b":679},{"r":1,"a":684,"b":685},{"r":1,"a":708,"b":713},{"r":1,"a":715,"b":717},{"r":1,"a":722,"b":723},{"r":1,"a":726,"b":729},{"r":1,"a":733,"b":741},
{"r":0,"a":1,"b":2},{"r":0,"a":8,"b":13},{"r":0,"a":26,"b":27},{"r":0,"a":32,"b":33},{"r":0,"a":35,"b":36},{"r":0,"a":57,"b":58},{"r":0,"a":67,"b":70},{"r":0,"a":74,"b":76},{"r":0,"a":77,"b":78},{"r":0,"a":89,"b":90},{"r":0,"a":92,"b":93},{"r":0,"a":101,"b":102},{"r":0,"a":106,"b":108},{"r":0,"a":111,"b":113},{"r":0,"a":117,"b":118},{"r":0,"a":122,"b":123},{"r":0,"a":126,"b":128},{"r":0,"a":152,"b":153},{"r":0,"a":156,"b":159},{"r":0,"a":162,"b":165},{"r":0,"a":169,"b":171},{"r":0,"a":173,"b":174},{"r":0,"a":186,"b":188},{"r":0,"a":200,"b":202},{"r":0,"a":224,"b":227},{"r":0,"a":231,"b":233},{"r":0,"a":234,"b":237},{"r":0,"a":246,"b":247},{"r":0,"a":249,"b":253},{"r":0,"a":268,"b":271},{"r":0,"a":277,"b":281},{"r":0,"a":287,"b":289},{"r":0,"a":294,"b":296},{"r":0,"a":305,"b":306},{"r":0,"a":311,"b":312},{"r":0,"a":316,"b":318},{"r":0,"a":321,"b":322},{"r":0,"a":325,"b":327},{"r":0,"a":330,"b":334},{"r":0,"a":338,"b":341},{"r":0,"a":346,"b":347},{"r":0,"a":353,"b":354},{"r":0,"a":356,"b":358},{"r":0,"a":362,"b":365},{"r":0,"a":387,"b":388},{"r":0,"a":394,"b":396},{"r":0,"a":405,"b":406},{"r":0,"a":409,"b":412},{"r":0,"a":419,"b":421},{"r":0,"a":422,"b":424},{"r":0,"a":429,"b":432},{"r":0,"a":441,"b":443},{"r":0,"a":454,"b":457},{"r":0,"a":472,"b":474},{"r":0,"a":479,"b":482},{"r":0,"a":490,"b":492},{"r":0,"a":493,"b":496},{"r":0,"a":504,"b":510},{"r":0,"a":520,"b":523},{"r":0,"a":525,"b":529},{"r":0,"a":533,"b":534},{"r":0,"a":538,"b":541},{"r":0,"a":545,"b":551},{"r":0,"a":554,"b":562},{"r":0,"a":563,"b":566},{"r":0,"a":573,"b":576},{"r":0,"a":581,"b":585},{"r":0,"a":595,"b":598},{"r":0,"a":606,"b":608},{"r":0,"a":613,"b":617},{"r":0,"a":620,"b":621},{"r":0,"a":623,"b":625},{"r":0,"a":636,"b":638},{"r":0,"a":644,"b":647},{"r":0,"a":650,"b":651},{"r":0,"a":654,"b":665},{"r":0,"a":667,"b":669},{"r":0,"a":678,"b":682},{"r":0,"a":684,"b":686},{"r":0,"a":708,"b":717},{"r":0,"a":723,"b":725},{"r":0,"a":726,"b":729},{"r":0,"a":733,"b":741}
]},"layer":[{"data":{"name":"rows"},"mark":{"type":"rect","color":"#ff0000"},"encoding":{"x":{"field":"a","type":"quantitative","scale":{"domain":[-1,742],"nice":false,"zero":false},"axis":{"values":[0,148,296,444,592,740],"labelExpr":"format(datum.value/740,'.1f')","title":null,"grid":false,"tickSize":10,"tickColor":"black","domainColor":"black","labelColor":"black","labelFont":"Liberation Sans","labelFontSize":14,"labelPadding":12,"labelFlush":false}},"x2":{"field":"b"},"y":{"field":"r","type":"ordinal","sort":"descending","scale":{"paddingInner":0,"paddingOuter":0},"axis":{"values":[0,5,10,15,20,25],"labelExpr":"format(datum.value/25,'.1f')","title":null,"grid":false,"domain":false,"tickSize":9,"tickColor":"black","labelColor":"black","labelFont":"Liberation Sans","labelFontSize":14,"labelAngle":270,"labelAlign":"center","labelBaseline":"bottom","labelPadding":10}}}},{"data":{"name":"pale"},"mark":{"type":"rect","color":"#ffffcc"},"encoding":{"x":{"field":"a","type":"quantitative"},"x2":{"field":"b"},"y":{"field":"r","type":"ordinal","sort":"descending"}}},{"data":{"values":[{"c":741.5}]},"mark":{"type":"rule","color":"black"},"encoding":{"x":{"field":"c","type":"quantitative"}}}]}
